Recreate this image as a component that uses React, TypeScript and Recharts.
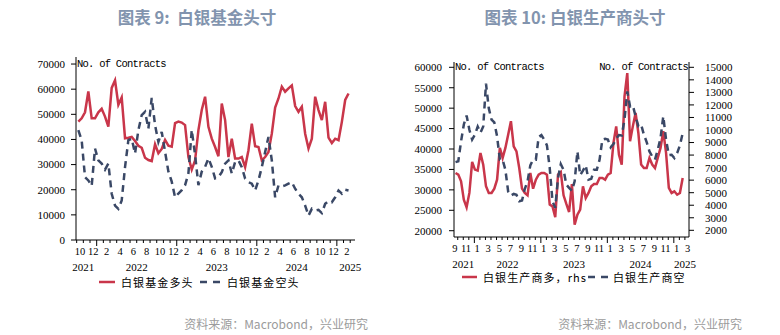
import React from 'react';
import { LineChart, Line, XAxis, YAxis } from 'recharts';

// semi-monthly readings, Oct 2021 – Feb 2025 (白银基金)
const fundLong = [
  47100, 48400, 50800, 59100, 48400, 48400, 50800, 52200, 49100, 45100,
  60500, 63500, 53800, 56700, 40500, 40700, 41000, 39400, 37500, 36700,
  32700, 31800, 31400, 38100, 34500, 36200, 39800, 37500, 37100, 46500,
  47100, 46700, 45700, 33000, 28000, 31700, 43700, 51700, 57000, 45000,
  40300, 37000, 33300, 54300, 47700, 33000, 40300, 32400, 32400, 33000,
  29000, 35700, 46300, 37300, 37000, 31700, 33000, 35000, 42300, 52700,
  56300, 61000, 59000, 60300, 61500, 53300, 51000, 53000, 42300, 36400,
  40300, 57000, 51700, 47700, 55000, 40700, 38600, 40300, 39700, 47000,
  55700, 58300,
];
const fundShort = [
  43700, 39700, 25000, 23700, 21500, 36400, 31700, 30400, 28000, 30400,
  18400, 13700, 12400, 15700, 29000, 39700, 40300, 34400, 43700, 49700,
  51000, 44300, 56500, 45700, 39000, 43000, 35100, 27200, 23200, 17000,
  18500, 19800, 21800, 26500, 43800, 33800, 21800, 27200, 29100, 32500,
  29100, 24500, 25000, 27000, 30400, 31700, 26400, 31000, 31700, 29000,
  24400, 23000, 22400, 19700, 23700, 29000, 35000, 41000, 31700, 17000,
  21700, 21300, 21700, 22400, 23000, 20400, 18400, 17000, 13700, 9700,
  12400, 11700, 12000, 10700, 14400, 15500, 15000, 17000, 19700, 18400,
  20000, 19700,
];

// semi-monthly readings, Sep 2021 – Feb 2025 (白银生产商)
const producerLong = [
  6570, 6440, 5910, 4450, 3830, 4980, 7450, 6840, 6760, 8170,
  7240, 5510, 4980, 4980, 5320, 6040, 8570, 7770, 8570, 9630,
  10700, 8700, 8300, 6970, 5320, 4980, 4790, 6570, 5320, 6040,
  6440, 6570, 6570, 6440, 4050, 3910, 3040, 6440, 6650, 4790,
  4100, 3460, 5690, 2450, 3250, 3650, 5510, 4580, 4980, 5510,
  5690, 5690, 6170, 6170, 6040, 6440, 6570, 8960, 10290, 8030,
  7240, 12680, 14540, 9100, 10290, 11360, 9760, 7240, 6970, 6970,
  7770, 7240, 6970, 7770, 8570, 9900, 8170, 5380, 4980, 5110,
  4840, 4980, 6170,
];
const producerShort = [
  36800, 37000, 41900, 46000, 48200, 44700, 42300, 43500, 45500, 44000,
  45500, 56000, 50000, 47200, 46500, 43100, 37400, 37400, 34900, 29600,
  28600, 29000, 28800, 27200, 27400, 30200, 32100, 36000, 37400, 37400,
  42900, 43400, 42300, 40900, 35400, 27200, 25600, 32900, 36300, 34900,
  31300, 30500, 29800, 32100, 39400, 33600, 34700, 36000, 32500, 32700,
  34900, 34900, 37400, 42300, 42500, 42300, 40400, 41200, 42500, 43400,
  43300, 47200, 54100, 50400, 50700, 48000, 45600, 46000, 43500, 41700,
  39400, 38200, 37400, 39800, 42700, 48000, 42300, 38500, 38600, 37800,
  39000, 40900, 43900,
];

// time axis in months since Jan 2021
const FUND_START = 9.25;
const PRODUCER_START = 8.6;
const STEP = 0.5;

const fundTicks = [0, 10000, 20000, 30000, 40000, 50000, 60000, 70000];
const producerLeftTicks = [20000, 25000, 30000, 35000, 40000, 45000, 50000, 55000, 60000];
const producerRightTicks = [2000, 3000, 4000, 5000, 6000, 7000, 8000, 9000, 10000, 11000, 12000, 13000, 14000, 15000];
const yearLabels: Record<number, string> = { 10: '2021', 18: '2022', 30: '2023', 42: '2024', 50: '2025' };

const fundData = fundLong.map((v, i) => ({ t: FUND_START + i * STEP, long: v, short: fundShort[i] }));
const producerData = producerLong.map((v, i) => ({ t: PRODUCER_START + i * STEP, long: v, short: producerShort[i] }));

const FUND_DOMAIN: [number, number] = [8.9, 50.72];
const PRODUCER_DOMAIN: [number, number] = [8.325, 50.74];

const midMonths = (lo: number, hi: number) => {
  const out: number[] = [];
  for (let m = Math.floor(lo); m + 0.5 <= hi; m++) if (m + 0.5 >= lo) out.push(m + 0.5);
  return out;
};

const RED = '#c9364a';
const NAVY = '#3a4866';
const SERIF = 'Liberation Serif, serif';
const CJK = 'Noto Sans CJK SC, sans-serif';
const MONO = 'Liberation Mono, monospace';

function MonthTick(props: any) {
  const { x, y, payload, pxPerMonth, parity, domainMin } = props;
  const t = payload.value as number;
  const m = Math.floor(t);
  const month = (m % 12) + 1;
  const startX = x - pxPerMonth / 2;
  const year = yearLabels[m];
  return (
    <g>
      {m >= domainMin && (
        <line x1={startX} y1={y} x2={startX} y2={y + (month === 1 ? 6 : 3)} stroke="#000" />
      )}
      {month % 2 === parity && (
        <text x={x} y={y + 11.5} textAnchor="middle" dominantBaseline="central" fontSize={10.5} fontFamily={SERIF} fill="#000">
          {month}
        </text>
      )}
      {year && (
        <text x={startX} y={y + 27} textAnchor="middle" dominantBaseline="central" fontSize={11} fontFamily={SERIF} fill="#000">
          {year}
        </text>
      )}
    </g>
  );
}

const yTick = { fontSize: 11, fill: '#000', fontFamily: SERIF };

export default function App() {
  return (
    <div style={{ position: 'absolute', left: 0, top: 0, width: 780, height: 335, background: '#fff' }}>
      <div style={{ position: 'absolute', left: 0, top: 0 }}>
        <LineChart width={390} height={335} data={fundData} margin={{ top: 57, right: 35, bottom: 0, left: 0 }}>
          <XAxis
            type="number"
            dataKey="t"
            domain={FUND_DOMAIN}
            allowDataOverflow
            ticks={midMonths(FUND_DOMAIN[0], FUND_DOMAIN[1])}
            interval={0}
            height={95}
            tickSize={0}
            tickMargin={0}
            tickLine={false}
            axisLine={{ stroke: '#000' }}
            tick={(p: any) => <MonthTick {...p} pxPerMonth={6.67} parity={0} domainMin={FUND_DOMAIN[0]} />}
          />
          <YAxis
            domain={[0, 72800]}
            allowDataOverflow
            ticks={fundTicks}
            interval={0}
            width={76}
            tickSize={5}
            tickMargin={6}
            axisLine={{ stroke: '#000' }}
            tickLine={{ stroke: '#000' }}
            tick={yTick}
          />
          <Line type="linear" dataKey="long" stroke={RED} strokeWidth={2.5} dot={false} isAnimationActive={false} />
          <Line type="linear" dataKey="short" stroke={NAVY} strokeWidth={2.5} strokeDasharray="7 5" dot={false} isAnimationActive={false} />
        </LineChart>
      </div>

      <div style={{ position: 'absolute', left: 390, top: 0 }}>
        <LineChart width={390} height={335} data={producerData} margin={{ top: 62, right: 0, bottom: 0, left: 0 }}>
          <XAxis
            type="number"
            dataKey="t"
            domain={PRODUCER_DOMAIN}
            allowDataOverflow
            ticks={midMonths(PRODUCER_DOMAIN[0], PRODUCER_DOMAIN[1])}
            interval={0}
            height={98}
            tickSize={0}
            tickMargin={0}
            tickLine={false}
            axisLine={{ stroke: '#000' }}
            tick={(p: any) => <MonthTick {...p} pxPerMonth={5.54} parity={1} domainMin={PRODUCER_DOMAIN[0]} />}
          />
          <YAxis
            yAxisId="left"
            domain={[18460, 61300]}
            allowDataOverflow
            ticks={producerLeftTicks}
            interval={0}
            width={64}
            tickSize={5}
            tickMargin={7}
            axisLine={{ stroke: '#000' }}
            tickLine={{ stroke: '#000' }}
            tick={yTick}
          />
          <YAxis
            yAxisId="right"
            orientation="right"
            domain={[1466, 15423]}
            allowDataOverflow
            ticks={producerRightTicks}
            interval={0}
            width={91}
            tickSize={5}
            tickMargin={11}
            axisLine={{ stroke: '#000' }}
            tickLine={{ stroke: '#000' }}
            tick={yTick}
          />
          <Line yAxisId="right" type="linear" dataKey="long" stroke={RED} strokeWidth={2.5} dot={false} isAnimationActive={false} />
          <Line yAxisId="left" type="linear" dataKey="short" stroke={NAVY} strokeWidth={2.5} strokeDasharray="7 5" dot={false} isAnimationActive={false} />
        </LineChart>
      </div>

      <svg width={780} height={335} style={{ position: 'absolute', left: 0, top: 0, pointerEvents: 'none' }}>
        <g fontFamily={CJK} fontWeight={700} fontSize={16.5} fill="#8294ae" textAnchor="middle">
          <text x={197} y={17} dominantBaseline="central">{'图表 9:\u00a0\u00a0白银基金头寸'}</text>
          <text x={575} y={17} dominantBaseline="central">图表 10: 白银生产商头寸</text>
        </g>

        <g fontFamily={MONO} fontSize={10.5} letterSpacing={-0.75} fill="#000">
          <text x={77} y={64} dominantBaseline="central">No. of Contracts</text>
          <text x={455} y={67} dominantBaseline="central">No. of Contracts</text>
          <text x={688} y={67} dominantBaseline="central" textAnchor="end">No. of Contracts</text>
        </g>

        <g fontFamily={CJK} fontSize={11} letterSpacing={1.1} fill="#000">
          <line x1={99} y1={282} x2={115} y2={282} stroke={RED} strokeWidth={2.5} />
          <text x={121} y={282} dominantBaseline="central">白银基金多头</text>
          <line x1={200} y1={282} x2={221} y2={282} stroke={NAVY} strokeWidth={2.5} strokeDasharray="7 6" />
          <text x={227} y={282} dominantBaseline="central">白银基金空头</text>

          <line x1={462} y1={277} x2={477} y2={277} stroke={RED} strokeWidth={2.5} />
          <text x={483} y={277} dominantBaseline="central">白银生产商多，rhs</text>
          <line x1={588} y1={277} x2={609} y2={277} stroke={NAVY} strokeWidth={2.5} strokeDasharray="7 6" />
          <text x={613} y={277} dominantBaseline="central">白银生产商空</text>
        </g>

        <g fontFamily={CJK} fontSize={12} fill="#9b9b9b" textAnchor="end">
          <text x={368} y={323} dominantBaseline="central">资料来源：Macrobond，兴业研究</text>
          <text x={742} y={323} dominantBaseline="central">资料来源：Macrobond，兴业研究</text>
        </g>
      </svg>
    </div>
  );
}
